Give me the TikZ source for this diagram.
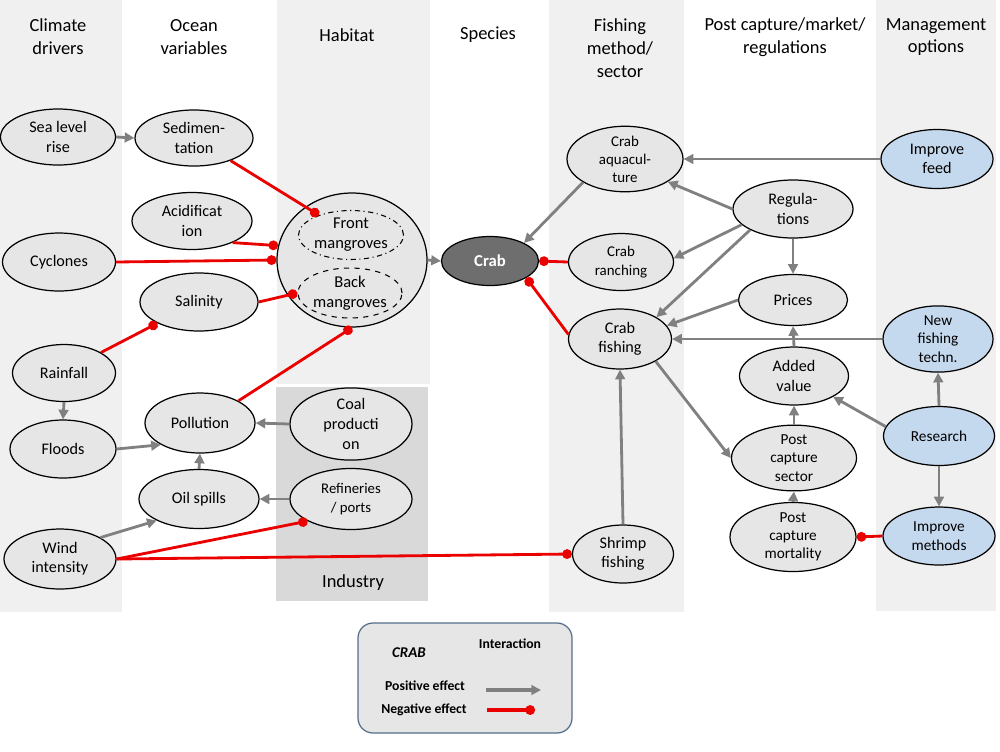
\documentclass[tikz,border=0pt]{standalone}
\usepackage{fontspec}
\setmainfont{Carlito}
\usetikzlibrary{shapes.geometric,arrows.meta}

\definecolor{colbg}{RGB}{240,240,240}
\definecolor{indbg}{RGB}{217,217,217}
\definecolor{nodebg}{RGB}{230,230,230}
\definecolor{mgmtbg}{RGB}{197,217,238}
\definecolor{crabbg}{RGB}{110,110,110}
\definecolor{posgray}{RGB}{128,128,128}
\definecolor{negred}{RGB}{235,0,0}
\definecolor{legline}{RGB}{85,110,140}

\begin{document}
\begin{tikzpicture}[x=0.02cm,y=-0.02cm,line join=bevel,
  sz/.style 2 args={minimum width=#1*0.02cm,minimum height=#2*0.02cm},
  var/.style={ellipse,draw=black,line width=0.7pt,fill=nodebg,inner sep=0pt,align=center,
    font=\fontsize{9.2}{11}\selectfont},
  mgmt/.style={var,fill=mgmtbg},
  sub/.style={ellipse,draw=black,line width=0.6pt,inner sep=0pt,align=center,
    font=\fontsize{9.4}{11.5}\selectfont},
  title/.style={align=center,font=\fontsize{10.5}{13}\selectfont},
  poseff/.style={draw=posgray,line width=1.6pt,-{Triangle[length=5.5pt,width=5.5pt]}},
  negeff/.style={draw=negred,line width=1.6pt,-{Circle[length=5.5pt]}}]

  \useasboundingbox (0,0) rectangle (1000,751);

  \fill[colbg] (0,0) rectangle (122,612);
  \fill[colbg] (277,0) rectangle (430,384);
  \fill[indbg] (276,387) rectangle (428,601);
  \fill[colbg] (549,0) rectangle (684,612);
  \fill[colbg] (876,0) rectangle (996,611);

  \node[title] (t1) at (58,37) {Climate\\drivers};
  \node[title] (t2) at (194,37) {Ocean\\variables};
  \node[title] (t3) at (347,35) {Habitat};
  \node[title] (t4) at (488,35) {Species};
  \node[title] (t5) at (620,48) {Fishing\\method/\\sector};
  \node[title] (t6) at (785,37) {Post capture/market/\\regulations};
  \node[title] (t7) at (936,37) {Management\\options};
  \node[title] (t8) at (353,583) {Industry};

  \node[var,sz={115}{56}] (sealevel) at (58,137) {Sea level\\rise};
  \node[var,sz={118}{56}] (sediment) at (194,138) {Sedimen-\\tation};
  \node[var,sz={120}{57}] (acid) at (192,221) {Acidificat\\ion};
  \node[var,sz={113}{58}] (cyclones) at (59,262) {Cyclones};
  \node[var,sz={118}{58}] (salinity) at (199,302) {Salinity};
  \node[var,sz={150}{134}] (mangroves) at (352,260) {};
  \node[sub,sz={105}{49},dash dot] (front) at (351,235) {Front\\mangroves};
  \node[sub,sz={104}{50},dashed] (back) at (350,293) {Back\\mangroves};
  \node[var,sz={97}{49},fill=crabbg,text=white,font=\fontsize{9.5}{11}\selectfont\bfseries] (crab) at (490,261) {Crab};
  \node[var,sz={103}{57}] (rainfall) at (64,373) {Rainfall};
  \node[var,sz={106}{58}] (floods) at (63,449) {Floods};
  \node[var,sz={110}{60}] (pollution) at (200,423) {Pollution};
  \node[var,sz={120}{59}] (oilspills) at (199,499) {Oil spills};
  \node[var,sz={112}{60}] (wind) at (60,559) {Wind\\intensity};
  \node[var,sz={122}{58},font=\fontsize{9.2}{11.3}\selectfont] (coal) at (351,424) {Coal\\producti\\on};
  \node[var,sz={122}{61},font=\fontsize{8.4}{10.5}\selectfont] (refineries) at (351,499) {Refineries\\/ ports};

  \node[var,sz={116}{60},font=\fontsize{8.5}{10.2}\selectfont] (aquaculture) at (625,159) {Crab\\aquacul-\\ture};
  \node[var,sz={105}{57},font=\fontsize{8.5}{10.5}\selectfont] (ranching) at (621,262) {Crab\\ranching};
  \node[var,sz={103}{60}] (fishing) at (620,339) {Crab\\fishing};
  \node[var,sz={101}{58}] (shrimp) at (623,554) {Shrimp\\fishing};
  \node[var,sz={120}{58}] (regulations) at (793,209) {Regula-\\tions};
  \node[var,sz={109}{51}] (prices) at (793,300) {Prices};
  \node[var,sz={109}{58}] (added) at (794,376) {Added\\value};
  \node[var,sz={125}{57},font=\fontsize{8.7}{10.4}\selectfont] (pcsector) at (794,458) {Post\\capture\\sector};
  \node[var,sz={126}{58},font=\fontsize{8.7}{10.4}\selectfont] (mortality) at (793,537) {Post\\capture\\mortality};
  \node[mgmt,sz={112}{59}] (feed) at (937,159) {Improve\\feed};
  \node[mgmt,sz={110}{59},font=\fontsize{8.7}{10.5}\selectfont] (newtech) at (938,339) {New\\fishing\\techn.};
  \node[mgmt,sz={111}{59},font=\fontsize{8.7}{10.5}\selectfont] (research) at (939,436) {Research};
  \node[mgmt,sz={112}{58},font=\fontsize{8.7}{10.5}\selectfont] (methods) at (939,536) {Improve\\methods};

  \draw[poseff] (sealevel.east) -- (sediment.west);
  \draw[poseff] (mangroves.east) -- (crab.west);
  \draw[poseff] (aquaculture.-151) -- (crab.28);
  \draw[poseff,line width=1.1pt] (feed.west) -- (aquaculture.east);
  \draw[poseff] (regulations.west) -- (aquaculture.-28);
  \draw[poseff] (regulations.-163) -- (ranching.4);
  \draw[poseff] (regulations.-154) -- (fishing.31);
  \draw[poseff] (regulations.south) -- (prices.north);
  \draw[poseff] (prices.west) -- (fishing.16);
  \draw[poseff] (newtech.west) -- (fishing.east);
  \draw[poseff] (added.north) -- (prices.south);
  \draw[poseff] (fishing.-32) -- (pcsector.west);
  \draw[poseff] (pcsector.north) -- (added.south);
  \draw[poseff] (mortality.north) -- (pcsector.south);
  \draw[poseff] (research.170) -- (added.-28);
  \draw[poseff] (research.north) -- (newtech.south);
  \draw[poseff] (research.south) -- (methods.north);
  \draw[poseff] (shrimp.north) -- (fishing.south);
  \draw[poseff] (rainfall.south) -- (floods.north);
  \draw[poseff] (floods.east) -- (pollution.-151);
  \draw[poseff] (coal.west) -- (pollution.east);
  \draw[poseff] (oilspills.north) -- (pollution.south);
  \draw[poseff] (refineries.west) -- (oilspills.east);
  \draw[poseff] (wind.28) -- (oilspills.-153);

  \draw[negeff] (sediment) -- (front);
  \draw[negeff] (acid.-28) -- (mangroves.169);
  \draw[negeff] (cyclones.east) -- (mangroves.west);
  \draw[negeff] (salinity.east) -- (back.west);
  \draw[negeff] (rainfall.29) -- (salinity.-153);
  \draw[negeff] (pollution.30) -- (mangroves.south);
  \draw[negeff] (wind.east) -- (refineries.-153);
  \draw[negeff] (wind.east) -- (shrimp.west);
  \draw[negeff] (ranching.west) -- (crab.east);
  \draw[negeff] (fishing.175) -- (crab.-25);
  \draw[negeff] (methods.west) -- (mortality.east);

  \draw[legline,line width=0.7pt,fill=nodebg,rounded corners=0.3cm] (358,623) rectangle (572,733);
  \node[font=\fontsize{8.5}{10}\selectfont\bfseries\itshape] (legcrab) at (409,653) {CRAB};
  \node[font=\fontsize{7.8}{9}\selectfont\bfseries] (leginter) at (510,644) {Interaction};
  \node[font=\fontsize{7.8}{9}\selectfont\bfseries] (legpos) at (425,686) {Positive effect};
  \node[font=\fontsize{7.8}{9}\selectfont\bfseries] (legneg) at (424,710) {Negative effect};
  \coordinate (pa) at (486,690);
  \coordinate (pb) at (541,690);
  \coordinate (na) at (487,710);
  \coordinate (nb) at (535,710);
  \draw[poseff,line width=2.2pt] (pa) -- (pb);
  \draw[negeff,line width=2pt] (na) -- (nb);
\end{tikzpicture}
\end{document}
